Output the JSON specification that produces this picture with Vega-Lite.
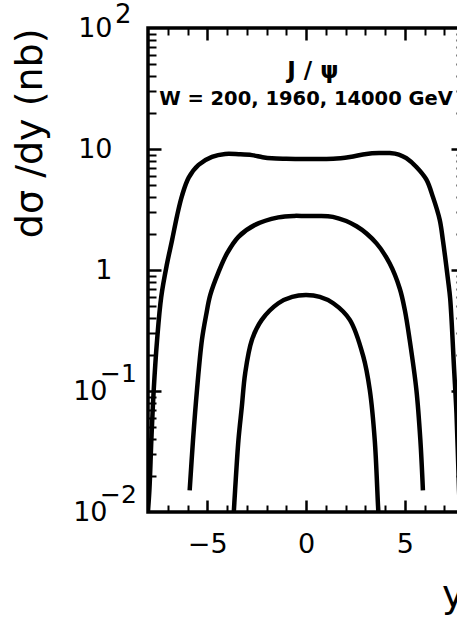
{
  "$schema": "https://vega.github.io/schema/vega-lite/v6.json",
  "width": 316,
  "height": 484,
  "autosize": {"type": "none"},
  "padding": {"left": 148, "top": 28, "right": -7, "bottom": 109},
  "background": "white",
  "config": {
    "view": {"stroke": "black", "strokeWidth": 3.5},
    "axis": {"grid": false, "domain": false, "labelFont": "DejaVu Sans", "titleFont": "DejaVu Sans", "labelColor": "black", "titleColor": "black", "tickColor": "black", "titleFontWeight": "normal"}
  },
  "datasets": {
    "curves": [
      {"rap": -8.05, "xs": 0.008, "W": "14000"},
      {"rap": -7.93, "xs": 0.0151, "W": "14000"},
      {"rap": -7.83, "xs": 0.0394, "W": "14000"},
      {"rap": -7.71, "xs": 0.102, "W": "14000"},
      {"rap": -7.54, "xs": 0.264, "W": "14000"},
      {"rap": -7.33, "xs": 0.6, "W": "14000"},
      {"rap": -7.04, "xs": 1.12, "W": "14000"},
      {"rap": -6.78, "xs": 1.77, "W": "14000"},
      {"rap": -6.53, "xs": 2.8, "W": "14000"},
      {"rap": -6.28, "xs": 4.1, "W": "14000"},
      {"rap": -5.94, "xs": 5.8, "W": "14000"},
      {"rap": -5.44, "xs": 7.4, "W": "14000"},
      {"rap": -4.76, "xs": 8.6, "W": "14000"},
      {"rap": -4.09, "xs": 9.1, "W": "14000"},
      {"rap": -3.4, "xs": 9.05, "W": "14000"},
      {"rap": -2.74, "xs": 8.9, "W": "14000"},
      {"rap": -2.2, "xs": 8.55, "W": "14000"},
      {"rap": -1.73, "xs": 8.37, "W": "14000"},
      {"rap": -1.0, "xs": 8.3, "W": "14000"},
      {"rap": 0.0, "xs": 8.27, "W": "14000"},
      {"rap": 0.7, "xs": 8.28, "W": "14000"},
      {"rap": 1.38, "xs": 8.3, "W": "14000"},
      {"rap": 2.22, "xs": 8.6, "W": "14000"},
      {"rap": 3.06, "xs": 9.1, "W": "14000"},
      {"rap": 3.7, "xs": 9.25, "W": "14000"},
      {"rap": 4.24, "xs": 9.25, "W": "14000"},
      {"rap": 4.7, "xs": 9.0, "W": "14000"},
      {"rap": 5.08, "xs": 8.4, "W": "14000"},
      {"rap": 5.59, "xs": 7.1, "W": "14000"},
      {"rap": 6.09, "xs": 5.6, "W": "14000"},
      {"rap": 6.43, "xs": 4.0, "W": "14000"},
      {"rap": 6.77, "xs": 2.6, "W": "14000"},
      {"rap": 6.93, "xs": 1.77, "W": "14000"},
      {"rap": 7.19, "xs": 0.83, "W": "14000"},
      {"rap": 7.3, "xs": 0.58, "W": "14000"},
      {"rap": 7.5, "xs": 0.15, "W": "14000"},
      {"rap": 7.62, "xs": 0.065, "W": "14000"},
      {"rap": 7.75, "xs": 0.015, "W": "14000"},
      {"rap": 7.82, "xs": 0.008, "W": "14000"},
      {"rap": -5.89, "xs": 0.0151, "W": "1960"},
      {"rap": -5.72, "xs": 0.0394, "W": "1960"},
      {"rap": -5.52, "xs": 0.102, "W": "1960"},
      {"rap": -5.27, "xs": 0.264, "W": "1960"},
      {"rap": -5.05, "xs": 0.43, "W": "1960"},
      {"rap": -4.85, "xs": 0.62, "W": "1960"},
      {"rap": -4.43, "xs": 0.96, "W": "1960"},
      {"rap": -4.0, "xs": 1.37, "W": "1960"},
      {"rap": -3.42, "xs": 1.88, "W": "1960"},
      {"rap": -2.58, "xs": 2.36, "W": "1960"},
      {"rap": -1.4, "xs": 2.72, "W": "1960"},
      {"rap": -0.6, "xs": 2.8, "W": "1960"},
      {"rap": 0.0, "xs": 2.79, "W": "1960"},
      {"rap": 0.6, "xs": 2.8, "W": "1960"},
      {"rap": 1.36, "xs": 2.75, "W": "1960"},
      {"rap": 2.56, "xs": 2.3, "W": "1960"},
      {"rap": 3.57, "xs": 1.66, "W": "1960"},
      {"rap": 4.24, "xs": 1.13, "W": "1960"},
      {"rap": 4.75, "xs": 0.7, "W": "1960"},
      {"rap": 5.0, "xs": 0.47, "W": "1960"},
      {"rap": 5.25, "xs": 0.264, "W": "1960"},
      {"rap": 5.59, "xs": 0.102, "W": "1960"},
      {"rap": 5.79, "xs": 0.0394, "W": "1960"},
      {"rap": 5.92, "xs": 0.0151, "W": "1960"},
      {"rap": -3.69, "xs": 0.008, "W": "200"},
      {"rap": -3.59, "xs": 0.0151, "W": "200"},
      {"rap": -3.42, "xs": 0.0394, "W": "200"},
      {"rap": -3.25, "xs": 0.074, "W": "200"},
      {"rap": -3.08, "xs": 0.14, "W": "200"},
      {"rap": -2.74, "xs": 0.264, "W": "200"},
      {"rap": -2.24, "xs": 0.387, "W": "200"},
      {"rap": -1.4, "xs": 0.531, "W": "200"},
      {"rap": -0.7, "xs": 0.6, "W": "200"},
      {"rap": 0.0, "xs": 0.62, "W": "200"},
      {"rap": 0.7, "xs": 0.6, "W": "200"},
      {"rap": 1.38, "xs": 0.531, "W": "200"},
      {"rap": 2.22, "xs": 0.387, "W": "200"},
      {"rap": 2.9, "xs": 0.193, "W": "200"},
      {"rap": 3.23, "xs": 0.102, "W": "200"},
      {"rap": 3.48, "xs": 0.0394, "W": "200"},
      {"rap": 3.65, "xs": 0.011, "W": "200"},
      {"rap": 3.7, "xs": 0.008, "W": "200"}
    ],
    "notes": [
      {"nx": 0.35, "ny": 44.3, "label": "J / ψ", "kind": "head"},
      {"nx": 0.0, "ny": 26.0, "label": "W = 200, 1960, 14000 GeV", "kind": "sub"}
    ],
    "exps": [
      {"ex": -8, "ey": 100, "t": "2", "s": "pos"},
      {"ex": -8, "ey": 0.1, "t": "−1", "s": "neg"},
      {"ex": -8, "ey": 0.01, "t": "−2", "s": "neg"}
    ]
  },
  "resolve": {"axis": {"x": "independent", "y": "independent"}},
  "layer": [
    {
      "data": {"name": "curves"},
      "mark": {"type": "line", "color": "black", "strokeWidth": 4.5, "clip": true, "interpolate": "catmull-rom"},
      "encoding": {
        "x": {"field": "rap", "type": "quantitative", "scale": {"domain": [-8, 8], "nice": false, "zero": false},
          "axis": {"orient": "bottom", "values": [-5, 0, 5], "ticks": false, "labelFontSize": 27, "labelPadding": 19, "labelFlush": false,
            "title": "y", "titleFontSize": 38, "titleAnchor": "end", "titlePadding": 19}},
        "y": {"field": "xs", "type": "quantitative", "scale": {"type": "log", "domain": [0.01, 100], "nice": false},
          "axis": {"orient": "left", "values": [1, 10, 100], "ticks": false, "labelFontSize": 27, "labelPadding": 36, "labelBaseline": "middle",
            "labelExpr": "datum.value > 0.99 && datum.value < 1.01 ? '1' : '10'",
            "title": "dσ /dy (nb)", "titleFontSize": 38, "titleAnchor": "end", "titlePadding": 28}},
        "detail": {"field": "W", "type": "nominal"}
      }
    },
    {
      "data": {"name": "curves"},
      "mark": {"type": "line", "strokeOpacity": 0, "clip": true},
      "encoding": {
        "x": {"field": "rap", "type": "quantitative", "scale": {"domain": [-8, 8], "nice": false, "zero": false},
          "axis": {"orient": "bottom", "values": [-7, -6, -4, -3, -2, -1, 1, 2, 3, 4, 6, 7], "labels": false, "tickSize": -7, "tickWidth": 2, "title": null}},
        "y": {"field": "xs", "type": "quantitative", "scale": {"type": "log", "domain": [0.01, 100], "nice": false},
          "axis": {"orient": "left", "values": [0.01, 0.1], "ticks": false, "labelFontSize": 27, "labelPadding": 41, "labelBaseline": "middle", "labelExpr": "'10'", "title": null}},
        "detail": {"field": "W", "type": "nominal"}
      }
    },
    {
      "data": {"name": "curves"},
      "mark": {"type": "line", "strokeOpacity": 0, "clip": true},
      "encoding": {
        "x": {"field": "rap", "type": "quantitative", "scale": {"domain": [-8, 8], "nice": false, "zero": false},
          "axis": {"orient": "bottom", "values": [-5, 0, 5], "labels": false, "tickSize": -12, "tickWidth": 2.5, "title": null}},
        "y": {"field": "xs", "type": "quantitative", "scale": {"type": "log", "domain": [0.01, 100], "nice": false},
          "axis": {"orient": "left", "values": [0.02, 0.03, 0.04, 0.05, 0.06, 0.07, 0.08, 0.09, 0.2, 0.3, 0.4, 0.5, 0.6, 0.7, 0.8, 0.9, 2, 3, 4, 5, 6, 7, 8, 9, 20, 30, 40, 50, 60, 70, 80, 90], "labels": false, "tickSize": -8, "tickWidth": 2, "title": null}},
        "detail": {"field": "W", "type": "nominal"}
      }
    },
    {
      "data": {"name": "curves"},
      "mark": {"type": "line", "strokeOpacity": 0, "clip": true},
      "encoding": {
        "x": {"field": "rap", "type": "quantitative", "scale": {"domain": [-8, 8], "nice": false, "zero": false},
          "axis": {"orient": "top", "values": [-7, -6, -4, -3, -2, -1, 1, 2, 3, 4, 6, 7], "labels": false, "tickSize": -7, "tickWidth": 2, "title": null}},
        "y": {"field": "xs", "type": "quantitative", "scale": {"type": "log", "domain": [0.01, 100], "nice": false},
          "axis": {"orient": "left", "values": [0.1, 1, 10], "labels": false, "tickSize": -13, "tickWidth": 2.5, "title": null}},
        "detail": {"field": "W", "type": "nominal"}
      }
    },
    {
      "data": {"name": "curves"},
      "mark": {"type": "line", "strokeOpacity": 0, "clip": true},
      "encoding": {
        "x": {"field": "rap", "type": "quantitative", "scale": {"domain": [-8, 8], "nice": false, "zero": false},
          "axis": {"orient": "top", "values": [-5, 0, 5], "labels": false, "tickSize": -12, "tickWidth": 2.5, "title": null}},
        "y": {"field": "xs", "type": "quantitative", "scale": {"type": "log", "domain": [0.01, 100], "nice": false},
          "axis": {"orient": "right", "values": [0.02, 0.03, 0.04, 0.05, 0.06, 0.07, 0.08, 0.09, 0.2, 0.3, 0.4, 0.5, 0.6, 0.7, 0.8, 0.9, 2, 3, 4, 5, 6, 7, 8, 9, 20, 30, 40, 50, 60, 70, 80, 90], "labels": false, "tickSize": -8, "tickWidth": 2, "title": null}},
        "detail": {"field": "W", "type": "nominal"}
      }
    },
    {
      "data": {"name": "curves"},
      "mark": {"type": "line", "strokeOpacity": 0, "clip": true},
      "encoding": {
        "x": {"field": "rap", "type": "quantitative", "scale": {"domain": [-8, 8], "nice": false, "zero": false}, "axis": null},
        "y": {"field": "xs", "type": "quantitative", "scale": {"type": "log", "domain": [0.01, 100], "nice": false},
          "axis": {"orient": "right", "values": [0.1, 1, 10], "labels": false, "tickSize": -13, "tickWidth": 2.5, "title": null}},
        "detail": {"field": "W", "type": "nominal"}
      }
    },
    {
      "data": {"name": "notes"},
      "transform": [{"filter": "datum.kind === 'head'"}],
      "mark": {"type": "text", "font": "DejaVu Sans", "fontWeight": "bold", "fontSize": 23, "color": "black", "align": "center", "baseline": "middle"},
      "encoding": {
        "x": {"field": "nx", "type": "quantitative", "axis": null},
        "y": {"field": "ny", "type": "quantitative", "axis": null},
        "text": {"field": "label"}
      }
    },
    {
      "data": {"name": "notes"},
      "transform": [{"filter": "datum.kind === 'sub'"}],
      "mark": {"type": "text", "font": "DejaVu Sans", "fontWeight": "bold", "fontSize": 19.5, "color": "black", "align": "center", "baseline": "middle"},
      "encoding": {
        "x": {"field": "nx", "type": "quantitative", "axis": null},
        "y": {"field": "ny", "type": "quantitative", "axis": null},
        "text": {"field": "label"}
      }
    },
    {
      "data": {"name": "exps"},
      "transform": [{"filter": "datum.s === 'pos'"}],
      "mark": {"type": "text", "font": "DejaVu Sans", "fontSize": 26, "color": "black", "align": "left", "baseline": "middle", "dx": -33, "dy": -13},
      "encoding": {
        "x": {"field": "ex", "type": "quantitative", "axis": null},
        "y": {"field": "ey", "type": "quantitative", "axis": null},
        "text": {"field": "t"}
      }
    },
    {
      "data": {"name": "exps"},
      "transform": [{"filter": "datum.s === 'neg'"}],
      "mark": {"type": "text", "font": "DejaVu Sans", "fontSize": 25, "color": "black", "align": "left", "baseline": "middle", "dx": -48, "dy": -17},
      "encoding": {
        "x": {"field": "ex", "type": "quantitative", "axis": null},
        "y": {"field": "ey", "type": "quantitative", "axis": null},
        "text": {"field": "t"}
      }
    }
  ]
}
